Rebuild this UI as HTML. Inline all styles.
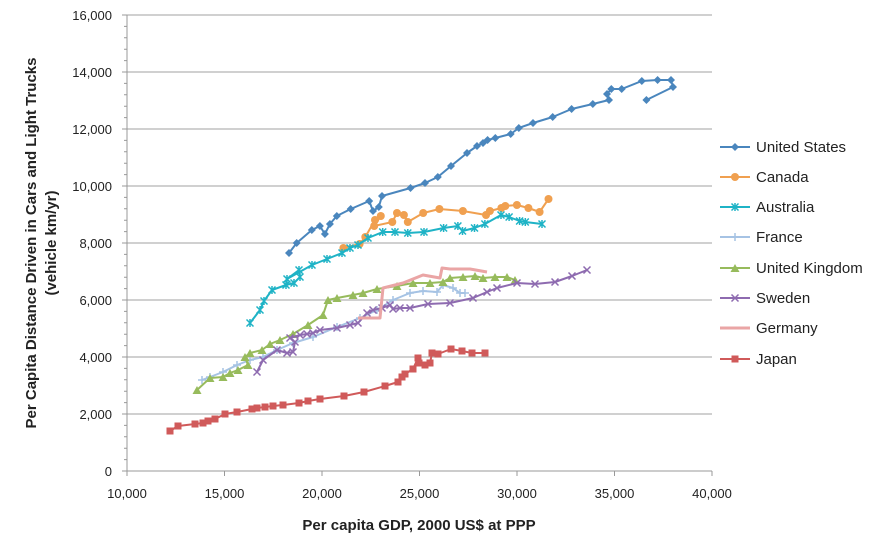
<!DOCTYPE html>
<html><head><meta charset="utf-8"><style>
html,body{margin:0;padding:0;background:#fff;}
svg{display:block;font-family:"Liberation Sans",sans-serif;}
</style></head><body>
<svg width="877" height="547" viewBox="0 0 877 547">
<defs>
<marker id="mUS" markerUnits="userSpaceOnUse" markerWidth="10" markerHeight="10" refX="5" refY="5"><path d="M5 1 L9 5 L5 9 L1 5Z" fill="#4a86bd"/></marker>
<marker id="mCA" markerUnits="userSpaceOnUse" markerWidth="10" markerHeight="10" refX="5" refY="5"><circle cx="5" cy="5" r="4" fill="#f0a050"/></marker>
<marker id="mAU" markerUnits="userSpaceOnUse" markerWidth="10" markerHeight="10" refX="5" refY="5"><path d="M1.5 1.5L8.5 8.5M8.5 1.5L1.5 8.5M5 1V9" stroke="#1fb3c6" stroke-width="1.5"/></marker>
<marker id="mFR" markerUnits="userSpaceOnUse" markerWidth="10" markerHeight="10" refX="5" refY="5"><path d="M5 1V9M1 5H9" stroke="#a6c3e4" stroke-width="1.5"/></marker>
<marker id="mUK" markerUnits="userSpaceOnUse" markerWidth="10" markerHeight="10" refX="5" refY="5"><path d="M5 1L9.5 9H0.5Z" fill="#97bb5c"/></marker>
<marker id="mSE" markerUnits="userSpaceOnUse" markerWidth="10" markerHeight="10" refX="5" refY="5"><path d="M1.5 1.5L8.5 8.5M8.5 1.5L1.5 8.5" stroke="#8e6bb0" stroke-width="1.5"/></marker>
<marker id="mJP" markerUnits="userSpaceOnUse" markerWidth="10" markerHeight="10" refX="5" refY="5"><rect x="1.5" y="1.5" width="7" height="7" fill="#d05a5a"/></marker>
</defs>
<g stroke="#b3b3b3" stroke-width="1.3">
<line x1="127" y1="15" x2="712" y2="15"/><line x1="127" y1="72" x2="712" y2="72"/><line x1="127" y1="129" x2="712" y2="129"/><line x1="127" y1="186" x2="712" y2="186"/><line x1="127" y1="243" x2="712" y2="243"/><line x1="127" y1="300" x2="712" y2="300"/><line x1="127" y1="357" x2="712" y2="357"/><line x1="127" y1="414" x2="712" y2="414"/>
</g>
<g stroke="#999" stroke-width="1">
<line x1="127" y1="15" x2="127" y2="471"/><line x1="127" y1="471" x2="712" y2="471"/>
<path d="M122 15H127M122 72H127M122 129H127M122 186H127M122 243H127M122 300H127M122 357H127M122 414H127M122 471H127"/>
<path d="M124 26.4H127M124 37.8H127M124 49.2H127M124 60.6H127M124 83.4H127M124 94.8H127M124 106.2H127M124 117.6H127M124 140.4H127M124 151.8H127M124 163.2H127M124 174.6H127M124 197.4H127M124 208.8H127M124 220.2H127M124 231.6H127M124 254.4H127M124 265.8H127M124 277.2H127M124 288.6H127M124 311.4H127M124 322.8H127M124 334.2H127M124 345.6H127M124 368.4H127M124 379.8H127M124 391.2H127M124 402.6H127M124 425.4H127M124 436.8H127M124 448.2H127M124 459.6H127"/>
<path d="M127 471V476M224.5 471V476M322 471V476M419.5 471V476M517 471V476M614.5 471V476M712 471V476"/>
</g>
<g font-size="13" fill="#222" text-anchor="end">
<text x="112" y="20">16,000</text><text x="112" y="77">14,000</text><text x="112" y="134">12,000</text><text x="112" y="191">10,000</text><text x="112" y="248">8,000</text><text x="112" y="305">6,000</text><text x="112" y="362">4,000</text><text x="112" y="419">2,000</text><text x="112" y="476">0</text>
</g>
<g font-size="13" fill="#222" text-anchor="middle">
<text x="127" y="498">10,000</text><text x="224.5" y="498">15,000</text><text x="322" y="498">20,000</text><text x="419.5" y="498">25,000</text><text x="517" y="498">30,000</text><text x="614.5" y="498">35,000</text><text x="712" y="498">40,000</text>
</g>
<text x="419" y="530" font-size="15" font-weight="bold" text-anchor="middle" fill="#222">Per capita GDP, 2000 US$ at PPP</text>
<text transform="translate(36,243) rotate(-90)" font-size="15" font-weight="bold" text-anchor="middle" fill="#222">Per Capita Distance Driven in Cars and Light Trucks</text>
<text transform="translate(56,243) rotate(-90)" font-size="15" font-weight="bold" text-anchor="middle" fill="#222">(vehicle km/yr)</text>
<g fill="none" stroke-width="2" stroke-linejoin="round">
<polyline stroke="#4a86bd" marker-start="url(#mUS)" marker-mid="url(#mUS)" marker-end="url(#mUS)" points="289,253 296.7,243 311.8,230 319.9,226 324.9,234 329.9,224 336.8,216 350.7,209 369.2,201 373,211 378.8,207 382,196 410.5,188 425,183 437.8,177 451,166 467,153 477,146 483,143 487.6,140 495.3,138 510.7,134 518.8,128 533,123 552.7,117 571.6,109 592.8,104 609,100 607,94 611.3,89 621.7,89 641.8,81 657.6,80 671,80 673,87 646.4,100"/>
<polyline stroke="#f0a050" marker-start="url(#mCA)" marker-mid="url(#mCA)" marker-end="url(#mCA)" points="343.4,248 359.6,244 365.3,237 375,220 380.8,216 374.2,226 392.3,222 397,213 403.9,215 407.8,222 423.2,213 439.4,209 462.9,211 486,215 489.9,211 501.4,208 505.3,206 516.9,205 528.4,208 539.6,212 548.5,199"/>
<polyline stroke="#1fb3c6" marker-start="url(#mAU)" marker-mid="url(#mAU)" marker-end="url(#mAU)" points="250,323 260,310 264,301 272,290 286,285 294,283 300,277 299,270 287,279 312,265 327,259 342,253 350,248 358,245 368,238 382.7,232 395,232 407.8,233 424,232 443.6,228 457.9,226 462.5,231 474.5,228 484.9,224 501,215 509.1,217 519.6,221 525.3,222 542,224"/>
<polyline stroke="#a6c3e4" marker-start="url(#mFR)" marker-mid="url(#mFR)" marker-end="url(#mFR)" points="202,380 210,377 223,372 237,365 250,360 263,357 277,350 293,343 313,337 337,327 360,318 377,310 393,300 410,293 423,291 437,292 443,285 453,288 460,293 465,293"/>
<polyline stroke="#97bb5c" marker-start="url(#mUK)" marker-mid="url(#mUK)" marker-end="url(#mUK)" points="197,390 210,378 223,377 230,373 238,370 248,365 245,357 250,353 262,350 270,344 280,340 293,334 308,325 323,315 328,300 337,298 353,295 363,293 377,289 397,286 413,283 430,283 443,282 450,278 463,277 475,276 483,278 495,277 507,277 515,280"/>
<polyline stroke="#8e6bb0" marker-start="url(#mSE)" marker-mid="url(#mSE)" marker-end="url(#mSE)" points="257,372 263,360 277,350 287,353 293,352 295,342 290,338 300,335 307,334 313,333 320,330 337,328 350,325 358,323 367,313 373,310 382,308 390,305 393,309 400,308 410,308 428,304 450,303 473,298 487,292 497,288 517,283 535,284 555,282 572,276 587,270"/>
<polyline stroke="#eaa5a5" stroke-width="3" points="358,318 380,318 383,288 403,283 423,275 440,278 442,268 450,269 470,269 487,272"/>
<polyline stroke="#d05a5a" marker-start="url(#mJP)" marker-mid="url(#mJP)" marker-end="url(#mJP)" points="170,431 178,426 195,424 203,423 208,421 215,419 225,414 237,412 252,409 257,408 265,407 273,406 283,405 299,403 308,401 320,399 344,396 364,392 385,386 398,382 402,377 405,374 413,369 418,358 419,363 425,365 430,363 432,353 438,354 451,349 462,351 472,353 485,353"/>
</g>
<g fill="none" stroke-width="2">
<path d="M720 147L735 147L750 147" stroke="#4a86bd" marker-mid="url(#mUS)"/>
<path d="M720 177L735 177L750 177" stroke="#f0a050" marker-mid="url(#mCA)"/>
<path d="M720 207L735 207L750 207" stroke="#1fb3c6" marker-mid="url(#mAU)"/>
<path d="M720 237L735 237L750 237" stroke="#a6c3e4" marker-mid="url(#mFR)"/>
<path d="M720 268L735 268L750 268" stroke="#97bb5c" marker-mid="url(#mUK)"/>
<path d="M720 298L735 298L750 298" stroke="#8e6bb0" marker-mid="url(#mSE)"/>
<path d="M720 328H750" stroke="#eaa5a5" stroke-width="3"/>
<path d="M720 359L735 359L750 359" stroke="#d05a5a" marker-mid="url(#mJP)"/>
</g>
<g font-size="15" fill="#222">
<text x="756" y="152">United States</text><text x="756" y="182">Canada</text><text x="756" y="212">Australia</text><text x="756" y="242">France</text><text x="756" y="273">United Kingdom</text><text x="756" y="303">Sweden</text><text x="756" y="333">Germany</text><text x="756" y="364">Japan</text>
</g>
</svg>
</body></html>
